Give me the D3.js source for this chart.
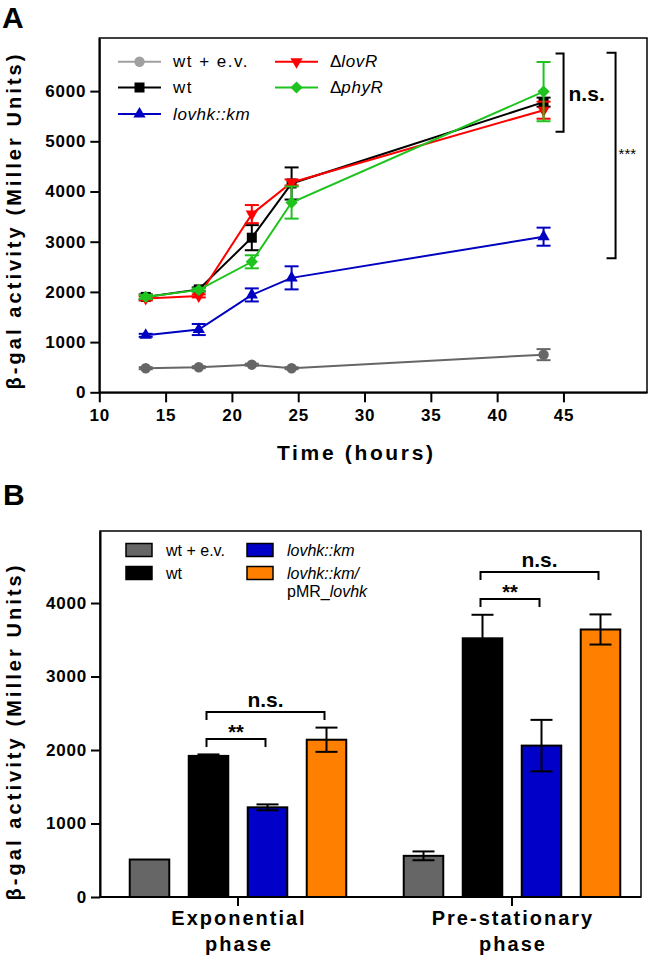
<!DOCTYPE html>
<html><head><meta charset="utf-8">
<script src="https://cdn.jsdelivr.net/npm/d3@7"></script>
<style>
body{margin:0;background:#fff;}
svg{display:block;font-family:"Liberation Sans",Arial,sans-serif;}
</style></head>
<body><svg id="c" width="651" height="964"></svg>
<script>
// ---------- Panel A data ----------
const times = [13.5, 17.5, 21.5, 24.5, 43.5];
const xTicksA = [10, 15, 20, 25, 30, 35, 40, 45];
const yTicksA = [0, 1000, 2000, 3000, 4000, 5000, 6000];
const wtEv      = [480, 500, 550, 480, 750];
const wtEvErr   = [20, 20, 20, 20, 110];
const wt        = [1900, 2050, 3080, 4160, 5780];
const wtErr     = [50, 40, 250, 320, 90];
const lovhk     = [1135, 1250, 1940, 2280, 3100];
const lovhkErr  = [30, 110, 130, 230, 180];
const lovR      = [1870, 1920, 3550, 4180, 5620];
const lovRErr   = [40, 30, 180, 60, 170];
const phyR      = [1900, 2040, 2600, 3780, 5990];
const phyRErr   = [40, 30, 130, 320, 590];
// brackets panel A (data units)
const bracketNsA  = [5190, 6750];
const bracketStarA = [2670, 6765];

// ---------- Panel B data ----------
const phases = ["Exponential phase", "Pre-stationary phase"];
const strainsB = ["wt + e.v.", "wt", "lovhk::km", "lovhk::km/pMR_lovhk"];
const expVals = [510, 1920, 1220, 2140];
const expErr  = [0, 20, 40, 165];
const preVals = [560, 3520, 2060, 3640];
const preErr  = [60, 320, 350, 205];
const yTicksB = [0, 1000, 2000, 3000, 4000];
const bracketStarB = [2150, 4054]; // ** heights (exp, pre)
const bracketNsB   = [2517, 4422]; // n.s. heights (exp, pre)

const svg = d3.select("#c");
const FONT = '"Liberation Sans",Arial,sans-serif';
const fmt = d3.format("d");

// ================= PANEL A =================
const xA = d3.scaleLinear().domain([10, 51.3]).range([99.3, 647]);
const yA = d3.scaleLinear().domain([0, 7058]).range([392.3, 38]);

svg.append("text").attr("x", 2).attr("y", 28).attr("font-size", 30).attr("font-weight", "bold").text("A");

// frame
svg.append("rect").attr("x", xA.range()[0]).attr("y", yA.range()[1])
  .attr("width", xA.range()[1] - xA.range()[0]).attr("height", yA.range()[0] - yA.range()[1])
  .attr("fill", "none").attr("stroke", "#000").attr("stroke-width", 1.5);

const axA_y = svg.append("g").attr("transform", `translate(${xA.range()[0]},0)`)
  .call(d3.axisLeft(yA).tickValues(yTicksA).tickFormat(fmt).tickSize(9).tickSizeOuter(0).tickPadding(4));
const axA_x = svg.append("g").attr("transform", `translate(0,${yA.range()[0]})`)
  .call(d3.axisBottom(xA).tickValues(xTicksA).tickFormat(fmt).tickSize(10).tickSizeOuter(0).tickPadding(7));
[axA_y, axA_x].forEach(g => {
  g.selectAll("path,line").attr("stroke", "#000").attr("stroke-width", 2);
  g.selectAll("text").attr("font-size", 17).attr("font-weight", "bold").attr("fill", "#000")
    .attr("font-family", FONT).attr("letter-spacing", 0.8);
});

svg.append("text").attr("transform", "translate(21,222) rotate(-90)")
  .attr("text-anchor", "middle").attr("font-size", 20).attr("font-weight", "bold")
  .attr("textLength", 335).attr("lengthAdjust", "spacing")
  .text("β-gal activity  (Miller Units)");

svg.append("text").attr("x", 355).attr("y", 460).attr("text-anchor", "middle")
  .attr("font-size", 21).attr("font-weight", "bold").attr("textLength", 156).attr("lengthAdjust", "spacing")
  .text("Time (hours)");

const diamond = d3.symbol().type(d3.symbolSquare).size(75)();
const seriesA = [
  {name: "wt + e.v.", vals: wtEv, err: wtEvErr, color: "#666666", legColor: "#a0a0a0", sym: d3.symbol().type(d3.symbolCircle).size(85)(), rot: 0},
  {name: "lovhk::km", vals: lovhk, err: lovhkErr, color: "#0000c0", legColor: "#0000c0", sym: d3.symbol().type(d3.symbolTriangle).size(65)(), rot: 0},
  {name: "wt", vals: wt, err: wtErr, color: "#000000", legColor: "#000000", sym: d3.symbol().type(d3.symbolSquare).size(100)(), rot: 0},
  {name: "ΔlovR", vals: lovR, err: lovRErr, color: "#ff0000", legColor: "#ff0000", sym: d3.symbol().type(d3.symbolTriangle).size(65)(), rot: 180},
  {name: "ΔphyR", vals: phyR, err: phyRErr, color: "#1ec31e", legColor: "#1ec31e", sym: diamond, rot: 45}
];

const line = d3.line().x((d, i) => xA(times[i])).y(d => yA(d));
seriesA.forEach(s => {
  const g = svg.append("g");
  g.append("path").attr("d", line(s.vals)).attr("fill", "none").attr("stroke", s.color).attr("stroke-width", 2);
  s.vals.forEach((v, i) => {
    const e = s.err[i], cx = xA(times[i]);
    if (e > 0) {
      g.append("line").attr("x1", cx).attr("x2", cx).attr("y1", yA(v - e)).attr("y2", yA(v + e)).attr("stroke", s.color).attr("stroke-width", 2);
      [v - e, v + e].forEach(yy => g.append("line").attr("x1", cx - 7).attr("x2", cx + 7).attr("y1", yA(yy)).attr("y2", yA(yy)).attr("stroke", s.color).attr("stroke-width", 2));
    }
    g.append("path").attr("d", s.sym).attr("fill", s.color)
      .attr("transform", `translate(${cx},${yA(v)}) rotate(${s.rot})`);
  });
});

// legend A
const legA = [
  {s: seriesA[0], x: 118, y: 61.7}, {s: seriesA[2], x: 118, y: 87.5}, {s: seriesA[1], x: 118, y: 114},
  {s: seriesA[3], x: 275, y: 61.7}, {s: seriesA[4], x: 275, y: 87.5}
];
legA.forEach(l => {
  const g = svg.append("g");
  g.append("line").attr("x1", l.x).attr("x2", l.x + 43).attr("y1", l.y).attr("y2", l.y).attr("stroke", l.s.legColor).attr("stroke-width", 2);
  g.append("path").attr("d", l.s.sym).attr("fill", l.s.legColor).attr("transform", `translate(${l.x + 21.5},${l.y}) rotate(${l.s.rot})`);
  const t = g.append("text").attr("x", l.x + 55).attr("y", l.y + 5.5).attr("font-size", 17);
  const n = l.s.name;
  if (n === "wt + e.v." || n === "wt") t.attr("letter-spacing", 1.5).text(n);
  else if (n === "lovhk::km") t.attr("font-style", "italic").attr("letter-spacing", 0.6).text(n);
  else { t.append("tspan").text("Δ"); t.append("tspan").attr("font-style", "italic").attr("letter-spacing", 0.6).text(n.slice(1)); }
});

// brackets A
function bracketV(xArm, xV, y1, y2) {
  svg.append("path").attr("d", `M${xArm},${y1}H${xV}V${y2}H${xArm}`).attr("fill", "none").attr("stroke", "#000").attr("stroke-width", 2);
}
const xLast = xA(times[times.length - 1]);
bracketV(xLast + 12, xLast + 20, yA(bracketNsA[1]), yA(bracketNsA[0]));
svg.append("text").attr("x", xLast + 25).attr("y", 101).attr("font-size", 21).attr("font-weight", "bold").text("n.s.");
bracketV(xLast + 63, xLast + 72, yA(bracketStarA[1]), yA(bracketStarA[0]));
svg.append("text").attr("x", xLast + 75).attr("y", 159).attr("font-size", 15).text("***");

// ================= PANEL B =================
const yB = d3.scaleLinear().domain([0, 4980]).range([897, 531]);
const xG = d3.scaleBand().domain(phases).range([101, 649]).paddingInner(0).paddingOuter(0);
const xS = d3.scaleBand().domain(strainsB).range([19, 255]).paddingInner(0.33).paddingOuter(0.165);
const colB = ["#666666", "#000000", "#0000c8", "#ff8000"];

svg.append("text").attr("x", 3).attr("y", 505).attr("font-size", 30).attr("font-weight", "bold").text("B");

svg.append("rect").attr("x", 100).attr("y", yB.range()[1]).attr("width", 541).attr("height", yB.range()[0] - yB.range()[1])
  .attr("fill", "none").attr("stroke", "#000").attr("stroke-width", 1.5);

const axB_y = svg.append("g").attr("transform", "translate(100,0)")
  .call(d3.axisLeft(yB).tickValues(yTicksB).tickFormat(fmt).tickSize(9).tickSizeOuter(0).tickPadding(4));
axB_y.selectAll("path,line").attr("stroke", "#000").attr("stroke-width", 2);
axB_y.selectAll("text").attr("font-size", 17).attr("font-weight", "bold").attr("fill", "#000").attr("font-family", FONT).attr("letter-spacing", 0.8);

const axB_x = svg.append("g").attr("transform", `translate(0,${yB.range()[0]})`)
  .call(d3.axisBottom(xG).tickSize(9).tickSizeOuter(0).tickFormat(""));
axB_x.select("path.domain").attr("d", "M100,0H641");
axB_x.selectAll("path,line").attr("stroke", "#000").attr("stroke-width", 2);

phases.forEach(p => {
  const [a, b] = p.split(" ");
  const cx = xG(p) + xG.bandwidth() / 2;
  svg.append("text").attr("x", cx + 1).attr("y", 925).attr("text-anchor", "middle").attr("font-size", 20).attr("font-weight", "bold").attr("letter-spacing", 2).text(a);
  svg.append("text").attr("x", cx + 1).attr("y", 951).attr("text-anchor", "middle").attr("font-size", 20).attr("font-weight", "bold").attr("letter-spacing", 2).text(b);
});

svg.append("text").attr("transform", "translate(21,733) rotate(-90)")
  .attr("text-anchor", "middle").attr("font-size", 20).attr("font-weight", "bold")
  .attr("textLength", 335).attr("lengthAdjust", "spacing")
  .text("β-gal activity  (Miller Units)");

const groupsB = [{p: phases[0], vals: expVals, err: expErr}, {p: phases[1], vals: preVals, err: preErr}];
groupsB.forEach((g, gi) => {
  const gx = xG(g.p);
  const cen = i => gx + xS(strainsB[i]) + xS.bandwidth() / 2;
  g.vals.forEach((v, i) => {
    const x0 = gx + xS(strainsB[i]);
    svg.append("rect").attr("x", x0).attr("y", yB(v)).attr("width", xS.bandwidth()).attr("height", yB(0) - yB(v))
      .attr("fill", colB[i]).attr("stroke", "#000").attr("stroke-width", 2);
    const e = g.err[i];
    if (e > 0) {
      const cx = cen(i);
      svg.append("line").attr("x1", cx).attr("x2", cx).attr("y1", yB(v - e)).attr("y2", yB(v + e)).attr("stroke", "#000").attr("stroke-width", 2);
      [v - e, v + e].forEach(yy => svg.append("line").attr("x1", cx - 11).attr("x2", cx + 11).attr("y1", yB(yy)).attr("y2", yB(yy)).attr("stroke", "#000").attr("stroke-width", 2));
    }
  });
  // brackets
  const drawB = (i1, i2, val, label, fs, dy) => {
    const y = yB(val), x1 = cen(i1) - 2, x2 = cen(i2) - 2;
    svg.append("path").attr("d", `M${x1},${y + 8}V${y}H${x2}V${y + 8}`).attr("fill", "none").attr("stroke", "#000").attr("stroke-width", 2);
    svg.append("text").attr("x", (x1 + x2) / 2).attr("y", y + dy).attr("text-anchor", "middle").attr("font-size", fs).attr("font-weight", "bold").text(label);
  };
  drawB(1, 2, bracketStarB[gi], "**", 20, 0);
  drawB(1, 3, bracketNsB[gi], "n.s.", 21, -5);
});

// legend B
const legB = [
  {i: 0, x: 126, y: 550, txt: [["wt + e.v.", false]]},
  {i: 1, x: 126, y: 573, txt: [["wt", false]]},
  {i: 2, x: 247, y: 550, txt: [["lovhk::km", true]]},
  {i: 3, x: 247, y: 573, txt: [["lovhk::km/", true]], txt2: [["pMR_", false], ["lovhk", true]]}
];
legB.forEach(l => {
  svg.append("rect").attr("x", l.x).attr("y", l.y - 6.5).attr("width", 26).attr("height", 13)
    .attr("fill", colB[l.i]).attr("stroke", "#000").attr("stroke-width", 1.5);
  const t = svg.append("text").attr("x", l.x + 40).attr("y", l.y + 6).attr("font-size", 16);
  l.txt.forEach(([s, it]) => t.append("tspan").attr("font-style", it ? "italic" : "normal").text(s));
  if (l.txt2) {
    const t2 = svg.append("text").attr("x", l.x + 40).attr("y", l.y + 24).attr("font-size", 16);
    l.txt2.forEach(([s, it]) => t2.append("tspan").attr("font-style", it ? "italic" : "normal").text(s));
  }
});
</script></body></html>
